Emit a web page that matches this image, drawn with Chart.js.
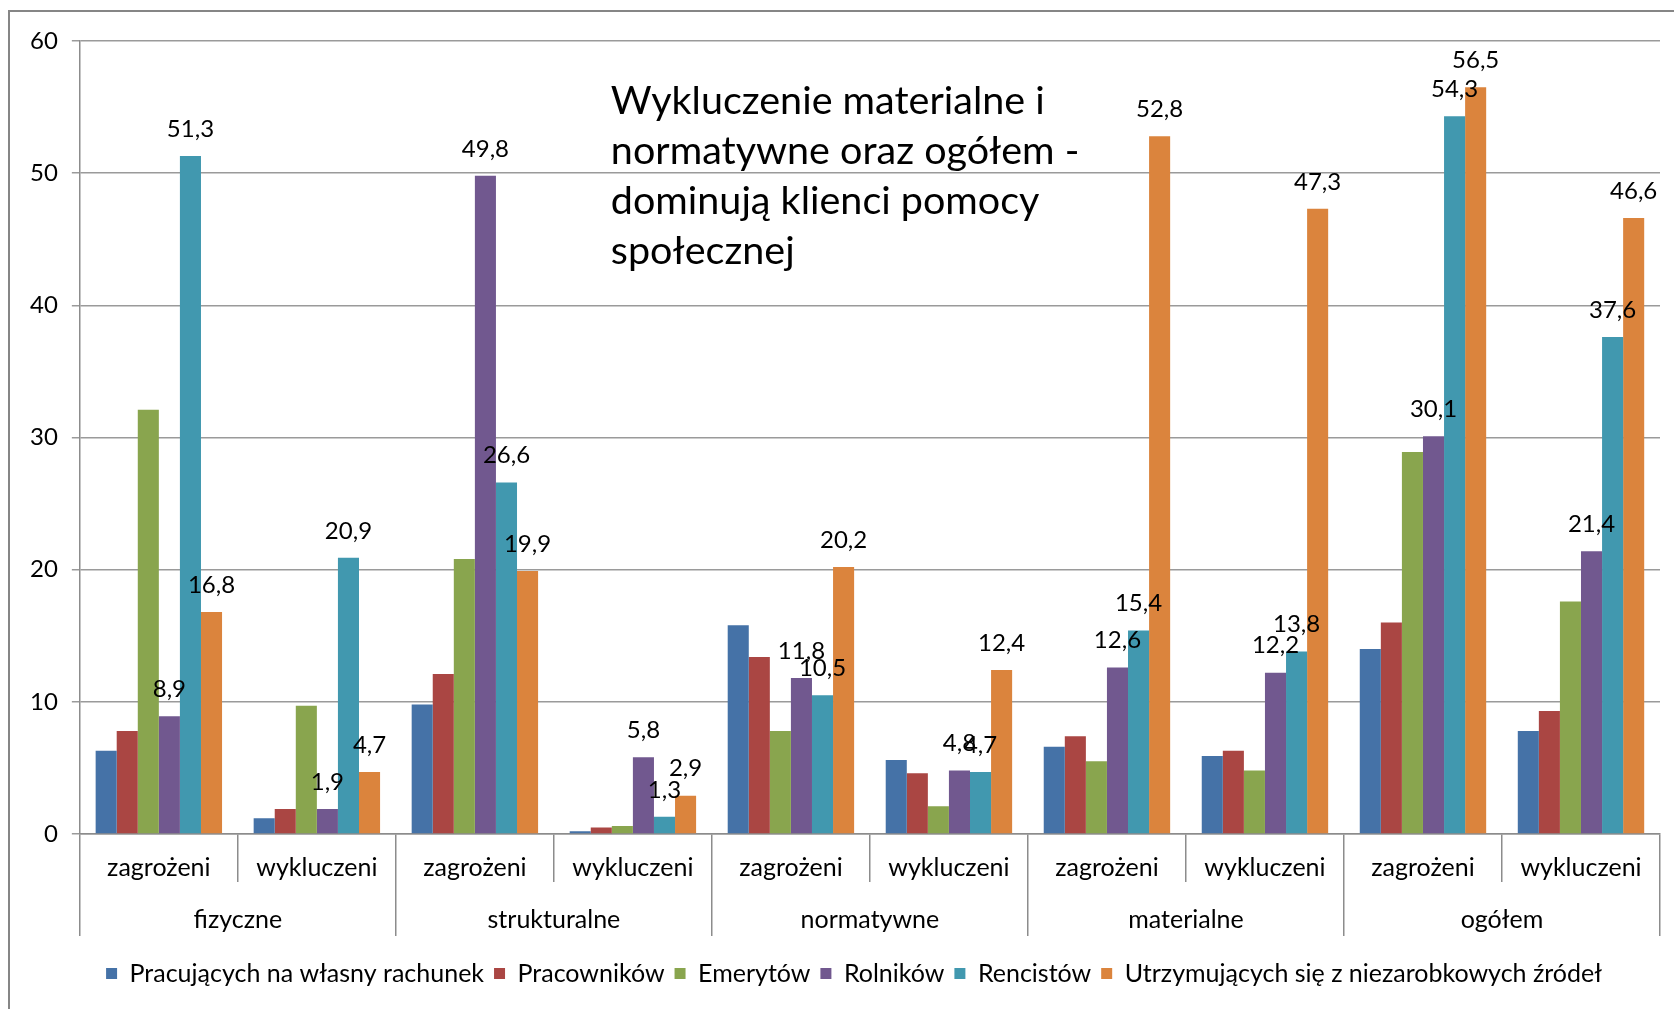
<!DOCTYPE html>
<html>
<head>
<meta charset="utf-8">
<script src="https://cdn.jsdelivr.net/npm/chart.js@4"></script>
<style>
  body { margin: 0; background: #fff; }
  #wrap { width: 1674px; height: 1009px; position: relative; }
</style>
</head>
<body>
<div id="wrap"><canvas id="chart"></canvas></div>
<script>
// categories
const subLabels = ['zagrożeni', 'wykluczeni', 'zagrożeni', 'wykluczeni', 'zagrożeni', 'wykluczeni', 'zagrożeni', 'wykluczeni', 'zagrożeni', 'wykluczeni'];
const groupLabels = ['fizyczne', 'strukturalne', 'normatywne', 'materialne', 'ogółem'];
const seriesNames = ['Pracujących na własny rachunek', 'Pracowników', 'Emerytów', 'Rolników', 'Rencistów', 'Utrzymujących się z niezarobkowych źródeł'];

// values per series
const pracujacych = [6.3, 1.2, 9.8, 0.2, 15.8, 5.6, 6.6, 5.9, 14.0, 7.8];
const pracownikow = [7.8, 1.9, 12.1, 0.5, 13.4, 4.6, 7.4, 6.3, 16.0, 9.3];
const emerytow = [32.1, 9.7, 20.8, 0.6, 7.8, 2.1, 5.5, 4.8, 28.9, 17.6];
const rolnikow = [8.9, 1.9, 49.8, 5.8, 11.8, 4.8, 12.6, 12.2, 30.1, 21.4];
const rencistow = [51.3, 20.9, 26.6, 1.3, 10.5, 4.7, 15.4, 13.8, 54.3, 37.6];
const utrzymujacych = [16.8, 4.7, 19.9, 2.9, 20.2, 12.4, 52.8, 47.3, 56.5, 46.6];

const yTicks = [0, 10, 20, 30, 40, 50, 60];
const titleLines = ['Wykluczenie materialne i', 'normatywne oraz ogółem -', 'dominują klienci pomocy', 'społecznej'];

const colors = ['#4572A7', '#AA4643', '#89A54E', '#71588F', '#4198AF', '#DB843D'];
const allValues = [pracujacych, pracownikow, emerytow, rolnikow, rencistow, utrzymujacych];
const labelledSeries = [3, 4, 5];

Chart.defaults.font.family = 'Lato, "Open Sans", sans-serif';
Chart.defaults.color = '#000';

const framePlugin = {
    id: 'frame',
    beforeDraw(chart) {
        const ctx = chart.ctx;
        ctx.save();
        ctx.fillStyle = '#fff';
        ctx.fillRect(0, 0, chart.width, chart.height);
        ctx.strokeStyle = '#868686';
        ctx.lineWidth = 2;
        ctx.strokeRect(9, 11, chart.width + 20, chart.height + 20);
        ctx.restore();
    }
};

// legend sits a bit right of the canvas centre in the original
const legendShift = {
    id: 'legendShift',
    afterLayout(chart) {
        if (chart.legend) {
            chart.legend.left += 16;
            chart.legend.right += 16;
        }
    }
};

const valueLabels = {
    id: 'valueLabels',
    afterDatasetsDraw(chart) {
        const ctx = chart.ctx;
        ctx.save();
        ctx.font = '24px Lato';
        ctx.fillStyle = '#000';
        ctx.textAlign = 'center';
        ctx.textBaseline = 'middle';
        labelledSeries.forEach(function(i) {
            const meta = chart.getDatasetMeta(i);
            meta.data.forEach(function(bar, j) {
                const v = chart.data.datasets[i].data[j];
                ctx.fillText(v.toFixed(1).replace('.', ','), bar.x, bar.y - 27);
            });
        });
        ctx.restore();
    }
};

const titleText = {
    id: 'titleText',
    afterDraw(chart) {
        const ctx = chart.ctx;
        const area = chart.chartArea;
        ctx.save();
        ctx.font = '39.5px Lato';
        ctx.fillStyle = '#000';
        ctx.textAlign = 'left';
        ctx.textBaseline = 'middle';
        titleLines.forEach(function(line, k) {
            ctx.fillText(line, area.left + 531, area.top + 60 + k * 50);
        });
        ctx.restore();
    }
};

new Chart(document.getElementById('chart'), {
    type: 'bar',
    data: {
        labels: subLabels,
        datasets: seriesNames.map(function(name, i) {
            return {
                label: name,
                data: allValues[i],
                backgroundColor: colors[i],
                borderWidth: 0,
                categoryPercentage: 0.8,
                barPercentage: 1.0
            };
        })
    },
    options: {
        responsive: true,
        maintainAspectRatio: false,
        animation: false,
        layout: {
            padding: { top: 41, right: 14, left: 16, bottom: 13 }
        },
        plugins: {
            legend: {
                position: 'bottom',
                labels: {
                    font: { size: 25 },
                    boxWidth: 11,
                    boxHeight: 11,
                    padding: 10
                }
            },
            tooltip: { enabled: false }
        },
        scales: {
            x: {
                offset: true,
                afterFit: function(scale) { scale.height = 48; },
                grid: {
                    offset: true,
                    drawOnChartArea: false,
                    tickLength: 48,
                    color: '#8c8c8c',
                    lineWidth: 1.5
                },
                border: { display: true, color: '#8c8c8c', width: 1.5 },
                ticks: { font: { size: 25 }, padding: -29, maxRotation: 0, autoSkip: false }
            },
            x2: {
                type: 'category',
                labels: groupLabels,
                position: 'bottom',
                offset: true,
                afterFit: function(scale) { scale.height = 69; },
                grid: {
                    offset: true,
                    drawOnChartArea: false,
                    tickLength: 54,
                    color: '#8c8c8c',
                    lineWidth: 1.5
                },
                border: { display: false },
                ticks: { font: { size: 25 }, padding: -31, maxRotation: 0, autoSkip: false }
            },
            y: {
                min: 0,
                max: 60,
                afterBuildTicks: function(scale) {
                    scale.ticks = yTicks.map(function(v) { return { value: v }; });
                },
                grid: {
                    color: '#9a9a9a',
                    lineWidth: 1.5,
                    tickLength: 8
                },
                border: { display: true, color: '#8c8c8c', width: 1.5 },
                ticks: { font: { size: 24 }, padding: 14 }
            }
        }
    },
    plugins: [framePlugin, legendShift, valueLabels, titleText]
});
</script>
</body>
</html>
